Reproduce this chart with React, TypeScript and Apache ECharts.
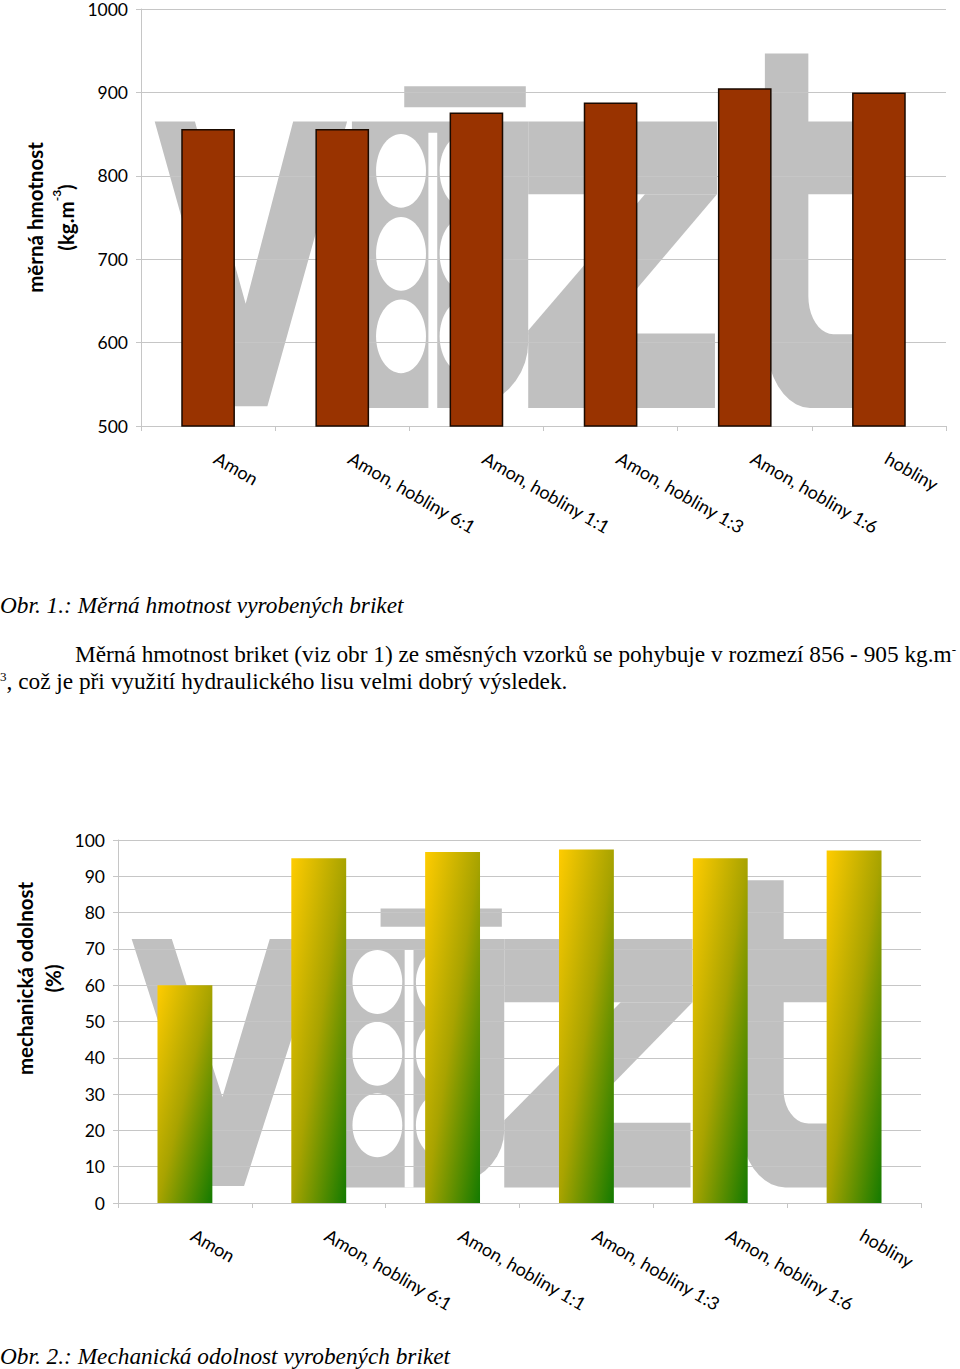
import React, { useEffect, useRef } from 'react';
import * as echarts from 'echarts';

// ---------- data ----------
const categories = [
  'Amon',
  'Amon, hobliny 6:1',
  'Amon, hobliny 1:1',
  'Amon, hobliny 1:3',
  'Amon, hobliny 1:6',
  'hobliny',
];
const densityValues = [856, 856, 876, 888, 905, 900];
const strengthValues = [60, 95, 96.7, 97.4, 95, 97.1];
const densityAxis = { min: 500, max: 1000, interval: 100 };
const strengthAxis = { min: 0, max: 100, interval: 10 };
const densityTitle = ['měrná hmotnost', '(kg.m', '-3', ')'];
const strengthTitle = ['mechanická odolnost', '(%)'];
const caption1 = 'Obr. 1.: Měrná hmotnost vyrobených briket';
const caption2 = 'Obr. 2.: Mechanická odolnost vyrobených briket';
const paragraphLine1 = 'Měrná hmotnost briket (viz obr 1) ze směsných vzorků se pohybuje v rozmezí 856 - 905 kg.m';
const paragraphSup1 = '-';
const paragraphSup2 = '3';
const paragraphLine2 = ', což je při využití hydraulického lisu velmi dobrý výsledek.';

// ---------- layout ----------
const G1 = { left: 141, top: 7, width: 805, height: 419 };
const G2 = { left: 118, top: 840, width: 803, height: 363 };
const GRID_GRAY = '#c6c6c6';
const LOGO_GRAY = '#c0c0c0';
const LABEL_FONT = 'Lato';
const SERIF = '"Liberation Serif", "Times New Roman", serif';
const TEXT_PX = 23.3;

// watermark logo, in unit coordinates of the plot area
type P = [number, number];
function arc(cx: number, cy: number, rx: number, ry: number, a0: number, a1: number, n = 10): P[] {
  const pts: P[] = [];
  for (let i = 0; i <= n; i++) {
    const a = a0 + ((a1 - a0) * i) / n;
    pts.push([cx + rx * Math.cos(a), cy + ry * Math.sin(a)]);
  }
  return pts;
}
const logoPolys: P[][] = [
  // v
  [[0.017, 0.273], [0.067, 0.273], [0.130, 0.708], [0.189, 0.273], [0.256, 0.273], [0.157, 0.953], [0.116, 0.953]],
  // u body
  [[0.262, 0.273], [0.481, 0.273], ...arc(0.40, 0.80, 0.081, 0.157, 0, Math.PI / 2), [0.262, 0.957]],
  // accent
  [[0.327, 0.189], [0.478, 0.189], [0.478, 0.239], [0.327, 0.239]],
  // z top
  [[0.481, 0.273], [0.7155, 0.273], [0.7155, 0.447], [0.481, 0.447]],
  // z diagonal
  [[0.626, 0.447], [0.7155, 0.447], [0.568, 0.781], [0.481, 0.781], [0.481, 0.772]],
  // z bottom
  [[0.481, 0.779], [0.713, 0.779], [0.713, 0.957], [0.481, 0.957]],
  // t
  [
    [0.775, 0.111], [0.829, 0.111], [0.829, 0.273], [0.895, 0.273], [0.895, 0.447], [0.829, 0.447],
    ...arc(0.86, 0.69, 0.031, 0.091, Math.PI, Math.PI / 2),
    [0.895, 0.781], [0.895, 0.957],
    ...arc(0.831, 0.779, 0.056, 0.178, Math.PI / 2, Math.PI),
  ],
];
const logoHoles = [
  { u: 0.323, v: 0.391 }, { u: 0.323, v: 0.589 }, { u: 0.323, v: 0.786 },
  { u: 0.402, v: 0.391 }, { u: 0.402, v: 0.589 }, { u: 0.402, v: 0.786 },
];
const holeR = { ru: 0.031, rv: 0.088 };
const stripe = [[0.357, 0.30], [0.368, 0.30], [0.368, 0.957], [0.357, 0.957]] as P[];

function logo(g: typeof G1) {
  const tx = (p: P) => [g.left + p[0] * g.width, g.top + p[1] * g.height];
  const els: any[] = [];
  logoPolys.forEach((poly) =>
    els.push({ type: 'polygon', silent: true, z: 0, shape: { points: poly.map(tx) }, style: { fill: LOGO_GRAY } })
  );
  logoHoles.forEach((h) =>
    els.push({
      type: 'ellipse', silent: true, z: 0,
      shape: { cx: g.left + h.u * g.width, cy: g.top + h.v * g.height, rx: holeR.ru * g.width, ry: holeR.rv * g.height },
      style: { fill: '#fff' },
    })
  );
  els.push({ type: 'polygon', silent: true, z: 0, shape: { points: stripe.map(tx) }, style: { fill: '#fff' } });
  return els;
}

function yAxisOf(
  gridIndex: number,
  ax: typeof densityAxis,
  name: string,
  gap: number,
  lineHeight: number,
  namePadding: number[]
) {
  return {
    type: 'value', gridIndex, min: ax.min, max: ax.max, interval: ax.interval, z: 1,
    name, nameLocation: 'middle', nameRotate: 90, nameGap: gap,
    nameTextStyle: {
      padding: namePadding,
      rich: {
        t: { fontFamily: LABEL_FONT, fontWeight: 'bold', fontSize: 20.5, lineHeight, color: '#000' },
        s: { fontFamily: LABEL_FONT, fontWeight: 'bold', fontSize: 12, color: '#000', verticalAlign: 'top' },
      },
    },
    axisLine: { show: true, lineStyle: { color: GRID_GRAY, width: 1 } },
    axisTick: { show: true, length: 5, lineStyle: { color: GRID_GRAY } },
    axisLabel: {
      color: '#000', fontFamily: LABEL_FONT, fontSize: 17.5, margin: 13,
      formatter: (v: number) => String(v),
    },
    splitLine: { show: true, lineStyle: { color: GRID_GRAY, width: 1 } },
  };
}
function xAxisOf(gridIndex: number) {
  return {
    type: 'category', gridIndex, data: categories, z: 1,
    axisLine: { show: true, lineStyle: { color: GRID_GRAY, width: 1 } },
    axisTick: { show: true, length: 5, alignWithLabel: false, lineStyle: { color: GRID_GRAY } },
    axisLabel: {
      interval: 0, rotate: -30, margin: 26, padding: [0, 0, 0, 9],
      color: '#000', fontFamily: LABEL_FONT, fontSize: 18,
    },
    splitLine: { show: false },
  };
}

function buildOption() {
  const texts: any[] = [
    {
      type: 'text', x: 0, y: 605, z: 5,
      style: { text: caption1, font: `italic ${TEXT_PX}px ${SERIF}`, fill: '#000', verticalAlign: 'middle' },
    },
    {
      type: 'text', x: 75, y: 654, z: 5,
      style: {
        text: paragraphLine1 + '{s|' + paragraphSup1 + '}',
        font: `${TEXT_PX}px ${SERIF}`, fill: '#000', verticalAlign: 'middle',
        rich: { s: { font: `13px ${SERIF}`, fill: '#000', verticalAlign: 'top' } },
      },
    },
    {
      type: 'text', x: 0, y: 681, z: 5,
      style: {
        text: '{s|' + paragraphSup2 + '}' + paragraphLine2,
        font: `${TEXT_PX}px ${SERIF}`, fill: '#000', verticalAlign: 'middle',
        rich: { s: { font: `13px ${SERIF}`, fill: '#000', verticalAlign: 'top' } },
      },
    },
    {
      type: 'text', x: 0, y: 1356, z: 5,
      style: { text: caption2, font: `italic ${TEXT_PX}px ${SERIF}`, fill: '#000', verticalAlign: 'middle' },
    },
  ];

  return {
    animation: false,
    backgroundColor: '#fff',
    grid: [
      { left: G1.left, top: G1.top, width: G1.width, height: G1.height },
      { left: G2.left, top: G2.top, width: G2.width, height: G2.height },
    ],
    xAxis: [xAxisOf(0), xAxisOf(1)],
    yAxis: [
      yAxisOf(
        0, densityAxis,
        `{t|${densityTitle[0]}}\n{t|${densityTitle[1]}}{s|${densityTitle[2]}}{t|${densityTitle[3]}}`,
        47, 31, [0, 0, 0, 0]
      ),
      yAxisOf(1, strengthAxis, `{t|${strengthTitle[0]}}\n{t|${strengthTitle[1]}}`, 51, 28, [0, 0, 0, 86]),
    ],
    graphic: { elements: [...logo(G1), ...logo(G2), ...texts] },
    series: [
      {
        type: 'bar', xAxisIndex: 0, yAxisIndex: 0, data: densityValues, barWidth: '40%', z: 2,
        itemStyle: { color: '#993300', borderColor: '#1a0a00', borderWidth: 1.5 },
      },
      {
        type: 'bar', xAxisIndex: 1, yAxisIndex: 1, data: strengthValues, barWidth: '41%', z: 2,
        itemStyle: {
          color: new echarts.graphic.LinearGradient(0, 0, 1, 1, [
            { offset: 0, color: '#ffcc00' },
            { offset: 0.5, color: '#a8a300' },
            { offset: 1, color: '#137a00' },
          ]),
        },
      },
    ],
  };
}

export default function App() {
  const ref = useRef<HTMLDivElement>(null);
  useEffect(() => {
    if (!ref.current) return;
    const chart = echarts.init(ref.current, null, { renderer: 'svg' });
    chart.setOption(buildOption() as any);
    return () => chart.dispose();
  }, []);
  return (
    <div
      ref={ref}
      style={{ position: 'absolute', left: 0, top: 0, width: 960, height: 1369, background: '#fff' }}
    />
  );
}
